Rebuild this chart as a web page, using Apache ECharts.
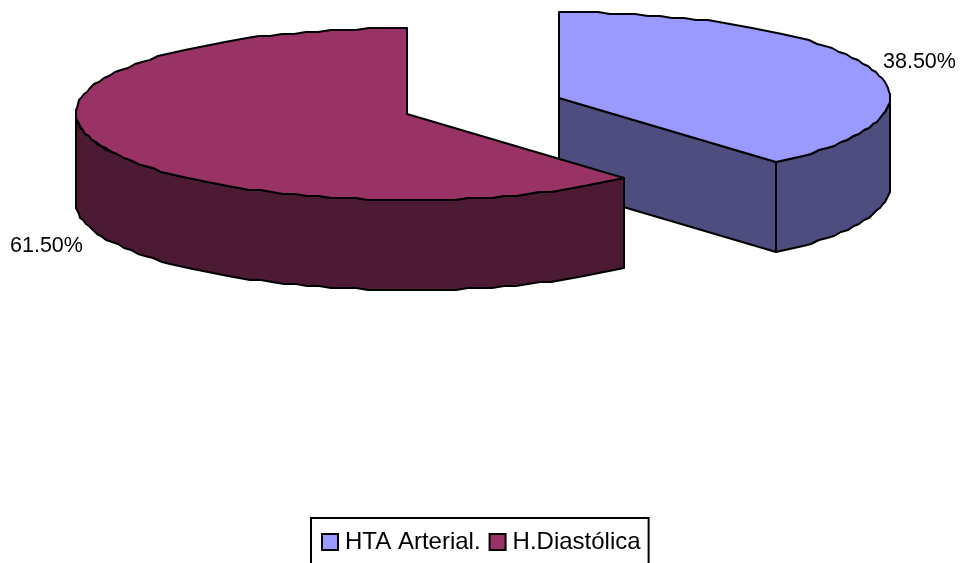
<!DOCTYPE html>
<html>
<head>
<meta charset="utf-8">
<style>html,body{margin:0;padding:0;background:#fff;overflow:hidden}#chart{width:962px;height:563px}</style>
<script src="https://cdn.jsdelivr.net/npm/echarts@6/dist/echarts.min.js"></script>
</head>
<body>
<div id="chart"></div>
<script>
// Share of hypertension types, drawn as an exploded 3D pie.
const categories = ['HTA Arterial.', 'H.Diastólica'];
const shares = [38.5, 61.5];
const shareLabels = ['38.50%', '61.50%'];
const topColors = ['#9999FF', '#993366'];
const sideColors = ['#4D4D80', '#4D1A33'];

// Projection of each exploded slice: hub position, ellipse radii, extrusion depth.
const hubs = [[559, 98], [407, 114]];
const RX = 331, RY = 86, DEPTH = 90, SKEW = 2;
const labelAnchors = [[883, 62], [10, 246]];

const total = shares.reduce((a, b) => a + b, 0);
const stroke = { stroke: '#000', lineWidth: 2, lineJoin: 'round' };

// Point on the rim; the angle runs clockwise from twelve o'clock. Vertical
// rounding gives the rim its slightly stepped plotter-style outline.
function rim(hub, deg, drop) {
  const r = deg * Math.PI / 180;
  return [
    Math.round(hub[0] + RX * Math.sin(r) + SKEW * Math.sin(2 * r)),
    Math.round((hub[1] - RY * Math.cos(r)) / 2) * 2 + drop
  ];
}
function arc(hub, from, to, drop) {
  const pts = [];
  const n = Math.max(1, Math.round(Math.abs(to - from) / 2.2));
  for (let i = 0; i <= n; i++) pts.push(rim(hub, from + (to - from) * i / n, drop));
  return pts;
}
function poly(points, fill, z) {
  return { type: 'polygon', z2: z, shape: { points }, style: Object.assign({ fill }, stroke) };
}

function renderSlice(params, api) {
  const i = params.seriesIndex;
  const hub = hubs[i];
  const before = shares.slice(0, i).reduce((a, b) => a + b, 0);
  const start = before / total * 360;
  const end = start + api.value(0) / total * 360;
  const children = [];

  // Wall along the slice's trailing radial edge, when it faces the viewer.
  if (end < 180) {
    const p = rim(hub, end, 0);
    children.push(poly([hub, p, [p[0], p[1] + DEPTH], [hub[0], hub[1] + DEPTH]], sideColors[i], 1));
  }
  // Outer rim: only the part in front of the widest point shows.
  const a = Math.max(start, 90), b = Math.min(end, 270);
  if (b > a) {
    const front = arc(hub, a, b, 0);
    const back = arc(hub, b, a, DEPTH);
    children.push(poly(front.concat(back), sideColors[i], 2));
  }
  // Top face, closed through the hub.
  const face = arc(hub, start, end, 0);
  face.push(hub);
  children.push(poly(face, topColors[i], 3));
  // Percentage label.
  children.push({
    type: 'text', z2: 4,
    style: {
      x: labelAnchors[i][0], y: labelAnchors[i][1],
      text: shareLabels[i], fill: '#000',
      font: '21.5px "Liberation Sans", Arial, sans-serif',
      textAlign: 'left', textVerticalAlign: 'middle'
    }
  });
  return { type: 'group', children };
}

const chart = echarts.init(document.getElementById('chart'), null, { renderer: 'canvas' });
chart.setOption({
  animation: false,
  backgroundColor: '#fff',
  legend: {
    left: 311, top: 518, width: 400,
    orient: 'horizontal',
    padding: [12, 8, 30, 10],
    itemGap: 8, itemWidth: 16, itemHeight: 16,
    borderColor: '#000', borderWidth: 2,
    data: categories.map((name, i) => ({ name, icon: 'rect', itemStyle: { color: topColors[i], borderColor: '#000', borderWidth: 2 } })),
    textStyle: { fontFamily: '"Liberation Sans", Arial, sans-serif', fontSize: 24, color: '#000', padding: [0, 0, 0, 2] }
  },
  series: categories.map((name, i) => ({
    type: 'custom',
    name,
    coordinateSystem: 'none',
    silent: true,
    itemStyle: { color: topColors[i] },
    renderItem: renderSlice,
    data: [[shares[i]]]
  }))
});
</script>
</body>
</html>
